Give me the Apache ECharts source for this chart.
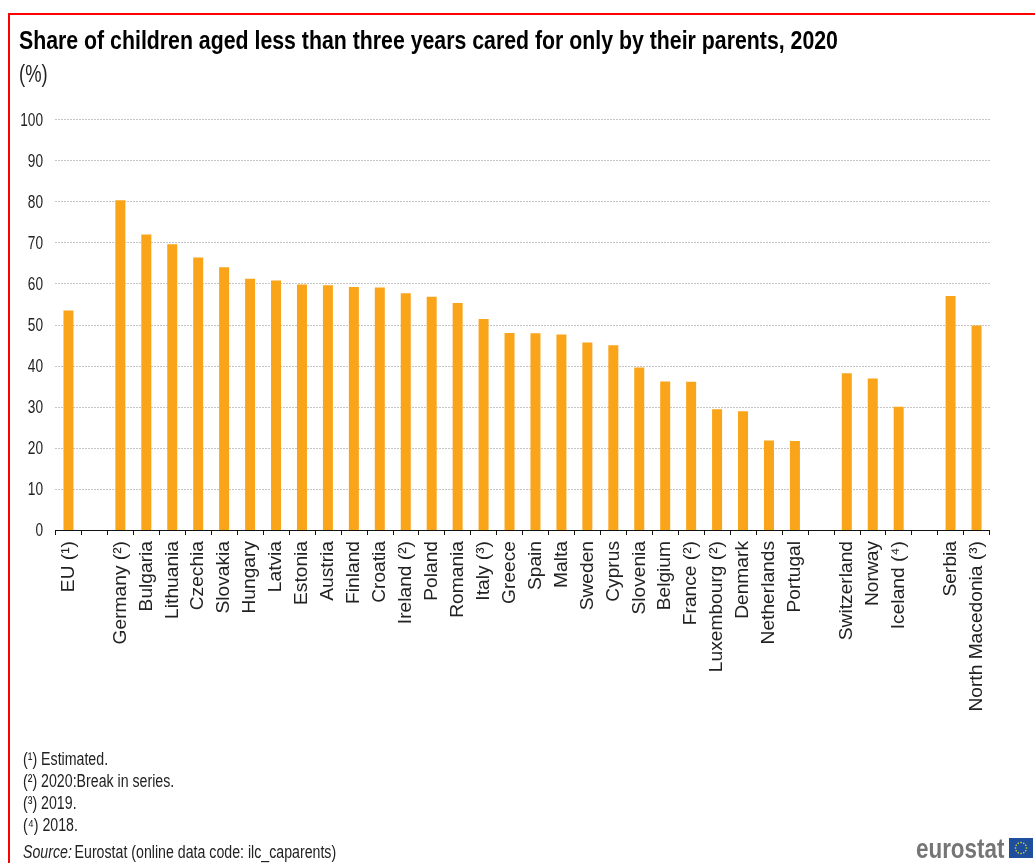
<!DOCTYPE html>
<html><head><meta charset="utf-8">
<style>html,body{margin:0;padding:0;background:#fff}#c{width:1035px;height:863px}</style>
<script src="https://cdn.jsdelivr.net/npm/echarts@6/dist/echarts.min.js"></script>
</head><body><div id="c"></div>
<script>
const categories = ['EU (¹)','','Germany (²)','Bulgaria','Lithuania','Czechia','Slovakia','Hungary','Latvia','Estonia','Austria','Finland','Croatia','Ireland (²)','Poland','Romania','Italy (³)','Greece','Spain','Malta','Sweden','Cyprus','Slovenia','Belgium','France (²)','Luxembourg (²)','Denmark','Netherlands','Portugal',' ','Switzerland','Norway','Iceland (⁴)','  ','Serbia','North Macedonia (³)'];
const values = [53.5,null,80.3,72,69.6,66.4,64,61.2,60.8,59.8,59.6,59.2,59.1,57.7,56.8,55.3,51.4,48,47.9,47.6,45.7,45,39.6,36.2,36.1,29.4,28.9,21.8,21.7,null,38.2,36.9,30,null,57,49.8];
const yTicks = [0,10,20,30,40,50,60,70,80,90,100];
const titleText = 'Share of children aged less than three years cared for only by their parents, 2020';
const unitText = '(%)';
const notes = ['(¹) Estimated.','(²) 2020:Break in series.','(³) 2019.','(⁴) 2018.'];
const sans = '"Liberation Sans",Arial,sans-serif';
const chart = echarts.init(document.getElementById('c'));
chart.setOption({
  animation:false,
  backgroundColor:'#fff',
  grid:{left:55.5,right:45.5,top:119.5,height:410.5},
  xAxis:{type:'category',data:categories,
    axisLine:{lineStyle:{color:'#111',width:1}},
    axisTick:{show:true,interval:0,length:5,lineStyle:{color:'#111'}},
    axisLabel:{interval:0,rotate:90,margin:11,fontFamily:sans,fontSize:19.2,color:'#222'}},
  yAxis:{type:'value',min:0,max:100,interval:10,
    axisLine:{show:false},axisTick:{show:false},
    splitLine:{lineStyle:{color:'#8a8a8a',type:[1,2],width:1}},
    axisLabel:{show:false}},
  series:[{type:'bar',data:values,barWidth:10,itemStyle:{color:'#faa519'}}]
});
const txt = (x,y,text,size,sx,extra) => ({type:'text',x,y,scaleX:sx,silent:true,
  style:Object.assign({text,font:size+'px '+sans,fill:'#222',textVerticalAlign:'middle'},extra||{})});
const stars = [];
for (let i = 0; i < 12; i++) {
  const a = i * Math.PI / 6;
  stars.push({type:'circle',shape:{cx:1021+5.5*Math.cos(a),cy:848+5.5*Math.sin(a),r:0.8},style:{fill:'#e8dc2a'}});
}
chart.setOption({graphic:[
  {type:'rect',shape:{x:8,y:13,width:2,height:850},style:{fill:'#f00'}},
  {type:'rect',shape:{x:8,y:13,width:1027,height:2},style:{fill:'#f00'}},
  txt(19,42,titleText,26,0.819,{font:'bold 26px '+sans,fill:'#000'}),
  txt(19,76,unitText,23,0.8),
  ...yTicks.map(v=>txt(43,chart.convertToPixel({yAxisIndex:0},v)+1,String(v),19,0.72,{textAlign:'right'})),
  ...notes.map((t,i)=>txt(23,760+i*22.2,t,17.5,0.81)),
  {type:'text',x:23,y:853.5,scaleX:0.81,style:{textVerticalAlign:'middle',
    rich:{i:{fontFamily:sans,fontStyle:'italic',fontSize:17.5,fill:'#222'},n:{fontFamily:sans,fontSize:17.5,fill:'#222'}},
    text:'{i|Source:} {n|Eurostat (online data code: ilc_caparents)}'}},
  txt(916,851,'eurostat',27,0.83,{font:'bold 27px '+sans,fill:'#757575'}),
  {type:'rect',shape:{x:1009,y:838,width:24,height:20},style:{fill:'#1d4f9c'}},
  ...stars
]});
</script></body></html>
